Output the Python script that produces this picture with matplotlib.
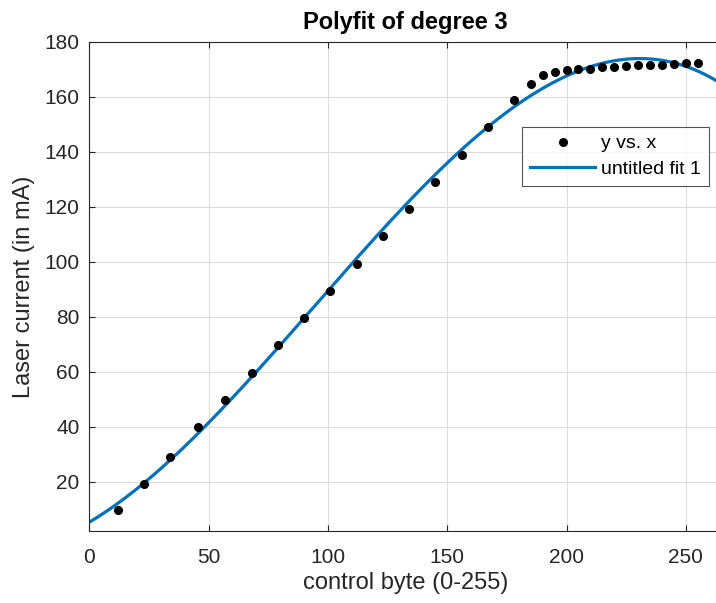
import numpy as np
import matplotlib
matplotlib.use("Agg")
import matplotlib.pyplot as plt

plt.rcParams['font.family'] = ['Liberation Sans', 'DejaVu Sans']

x_data = [12, 23, 34, 45.5, 57, 68, 79, 90, 101, 112, 123, 134, 145, 156, 167, 178,
          185, 190, 195, 200, 205, 210, 215, 220, 225, 230, 235, 240, 245, 250, 255]
y_data = [9.6, 19.3, 29.1, 39.8, 49.7, 59.5, 69.6, 79.4, 89.2, 99.2, 109.3, 119.2, 129.1,
          138.9, 148.9, 158.7, 164.5, 167.9, 169.0, 169.6, 170.1, 170.2, 170.7, 170.9,
          171.2, 171.4, 171.5, 171.5, 171.8, 172.3, 172.4]
fit_degree = 3
title = "Polyfit of degree 3"
xlabel = "control byte (0-255)"
ylabel = "Laser current (in mA)"
x_ticks = [0, 50, 100, 150, 200, 250]
y_ticks = [20, 40, 60, 80, 100, 120, 140, 160, 180]

coef = np.polyfit(x_data, y_data, fit_degree)
xs = np.linspace(0, 265, 500)
ys = np.polyval(coef, xs)

W, H = 716, 603
fig = plt.figure(figsize=(W / 100, H / 100), dpi=100)
left, right, top, bottom = 89.3, 721.6, 41.7, 531.0
ax = fig.add_axes([left / W, 1 - bottom / H, (right - left) / W, (bottom - top) / H])

ax.plot(x_data, y_data, 'o', color='black', markersize=5.5, label='y vs. x', zorder=3)
ax.plot(xs, ys, '-', color='#0072BD', linewidth=2.3, label='untitled fit 1', zorder=2)

ax.set_xlim(0, 265)
ax.set_ylim(2.1, 180)
ax.set_xticks(x_ticks)
ax.set_yticks(y_ticks)

axc = '#262626'
for s in ax.spines.values():
    s.set_color(axc)
    s.set_linewidth(0.8)
ax.tick_params(direction='in', length=4, width=0.8, colors=axc, labelsize=15,
               top=True, right=True, labelcolor=axc)
ax.tick_params(axis='x', pad=12)
ax.tick_params(axis='y', pad=7)
ax.grid(True, color='#dcdcdc', linewidth=0.8)
ax.set_axisbelow(True)

ax.set_title(title, fontsize=17, fontweight='bold', color='black', pad=9)
ax.set_xlabel(xlabel, fontsize=17, color=axc, labelpad=4)
ax.set_ylabel(ylabel, fontsize=17, color=axc, labelpad=7)

leg = ax.legend(loc='upper right', bbox_to_anchor=(709.3 / W, 1 - 126.7 / H),
                bbox_transform=fig.transFigure, fontsize=14, frameon=True, fancybox=False,
                edgecolor=axc, handlelength=3.35, borderpad=0.42, labelspacing=0.4,
                handletextpad=0.3, borderaxespad=0)
leg.get_frame().set_linewidth(0.8)

fig.savefig("out.png", dpi=100)
